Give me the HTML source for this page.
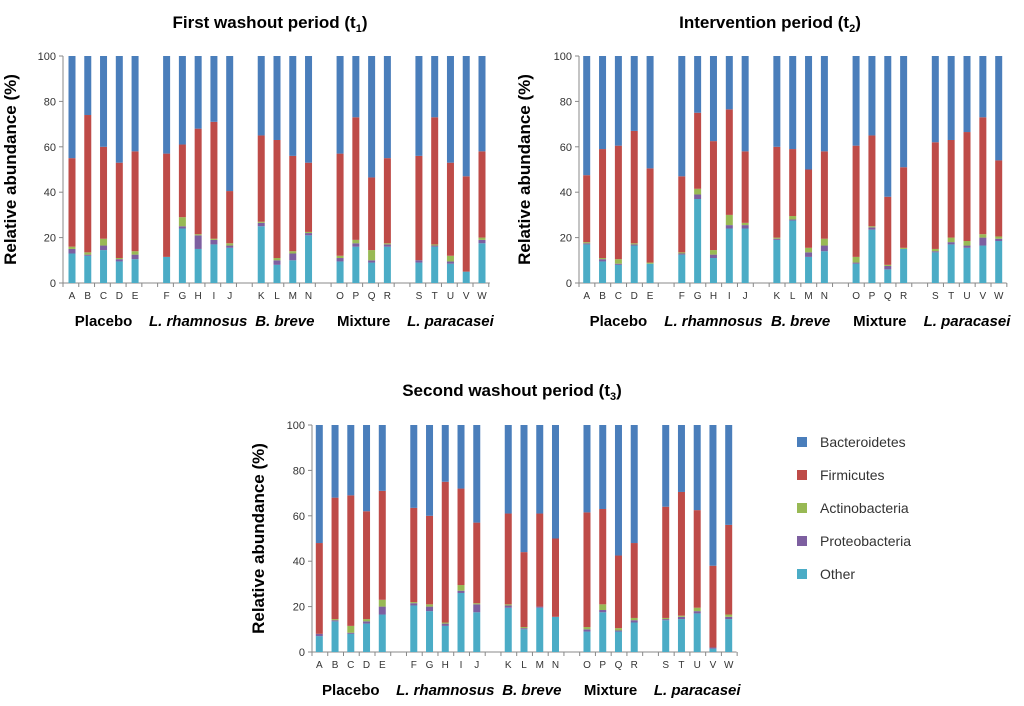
<!DOCTYPE html>
<html><head><meta charset="utf-8"><style>
body{margin:0;background:#fff;width:1024px;height:701px;overflow:hidden;font-family:"Liberation Sans",sans-serif}
svg text{font-family:"Liberation Sans",sans-serif}
</style></head><body>
<svg id="s" width="1024" height="701">
<text x="270" y="28" text-anchor="middle" font-size="17" font-weight="bold">First washout period (t<tspan font-size="11" dy="4">1</tspan><tspan dy="-4">)</tspan></text>
<text x="770" y="28" text-anchor="middle" font-size="17" font-weight="bold">Intervention period (t<tspan font-size="11" dy="4">2</tspan><tspan dy="-4">)</tspan></text>
<text x="512" y="396" text-anchor="middle" font-size="17" font-weight="bold">Second washout period (t<tspan font-size="11" dy="4">3</tspan><tspan dy="-4">)</tspan></text>
<g>
<rect x="797" y="437" width="10" height="10" fill="#4a7ebb"/><text x="820" y="447" font-size="14" fill="#333">Bacteroidetes</text>
<rect x="797" y="470" width="10" height="10" fill="#be4b48"/><text x="820" y="480" font-size="14" fill="#333">Firmicutes</text>
<rect x="797" y="503" width="10" height="10" fill="#98b954"/><text x="820" y="513" font-size="14" fill="#333">Actinobacteria</text>
<rect x="797" y="536" width="10" height="10" fill="#7d5fa0"/><text x="820" y="546" font-size="14" fill="#333">Proteobacteria</text>
<rect x="797" y="569" width="10" height="10" fill="#4bacc6"/><text x="820" y="579" font-size="14" fill="#333">Other</text>
</g>
</svg>
<script>
const categories=["A","B","C","D","E","F","G","H","I","J","K","L","M","N","O","P","Q","R","S","T","U","V","W"];
const groupNames=["Placebo","L. rhamnosus","B. breve","Mixture","L. paracasei"];
const groupSizes=[5,5,4,4,5];
const yTicks=[0,20,40,60,80,100];
// cumulative tops (%) : Other, +Proteobacteria, +Actinobacteria, +Firmicutes ; Bacteroidetes fills to 100
const t1Other=[13,12,14.5,9.5,10.5,11.5,24,15,17,15.5,25,8,10,21,9.5,16,9,16,9,16,8.5,5,17.5];
const t1Proteo=[15,12.5,16.5,10.5,12.5,11.5,25,21,19,16.5,26.5,10,13,22,11,17.5,10,17,10,16.5,9.5,5,19];
const t1Actino=[16,13.5,19.5,11,14,11.5,29,21.5,19.5,17.5,27,11,14,22.5,12,19,14.5,17.5,10,17,12,5,20];
const t1Firm=[55,74,60,53,58,57,61,68,71,40.5,65,63,56,53,57,73,46.5,55,56,73,53,47,58];
const t2Other=[17,9.5,8,16.5,8.5,12.5,37,11,24,24,19,27.5,11.5,14,8.5,23.5,6,15,13.5,17,15.5,16.5,18.5];
const t2Proteo=[17.5,10.5,8.5,17,8.5,13,39,12.5,25.5,25.5,19.5,28,13.5,16.5,9,24.5,7.5,15,14,18,16.5,20,19.5];
const t2Actino=[18,11,10.5,17.5,9,13.5,41.5,14.5,30,26.5,20,29.5,15.5,19.5,11.5,25,8,15.5,15,20,18.5,21.5,20.5];
const t2Firm=[47.5,59,60.5,67,50.5,47,75,62.5,76.5,58,60,59,50,58,60.5,65,38,51,62,63,66.5,73,54];
const t3Other=[7,13.5,8,12.5,16.5,20.5,18,11.5,26,17.5,19.5,10,19.5,15.5,9,17.5,9,13,14,14.5,17,1.5,14.5];
const t3Proteo=[8,14,8.5,13.5,20,21.5,20,12.5,27,21,20.5,10.5,20,15.5,10,18.5,9.5,14,14.5,15.5,18,2,15.5];
const t3Actino=[8,14.5,11.5,14.5,23,22,21,13,29.5,21.5,21,11,20,15.5,11,21,10.5,15,15,16,19.5,2,16.5];
const t3Firm=[48,68,69,62,71,63.5,60,75,72,57,61,44,61,50,61.5,63,42.5,48,64,70.5,62.5,38,56];

const NS="http://www.w3.org/2000/svg";
const svg=document.getElementById('s');
const colors=["#4bacc6","#7d5fa0","#98b954","#be4b48","#4a7ebb"];
const segNames=["other","proteobacteria","actinobacteria","firmicutes","bacteroidetes"];
function mk(tag,attrs,parent){const e=document.createElementNS(NS,tag);for(const k in attrs)e.setAttribute(k,attrs[k]);(parent||svg).appendChild(e);return e;}
function draw(id,series,xA,xW,y0,y100,axisX,ytx){
  const g=mk('g',{});
  
  
  const slots=[];let s=0;groupSizes.forEach((n,gi)=>{for(let i=0;i<n;i++)slots.push(s++);s++;});
  const step=(xW-xA)/26;
  const xs=i=>xA+slots[i]*step;
  const y=v=>y0-(v/100)*(y0-y100);
  const axEnd=xW+step/2;
  // y axis
  const ya=mk('line',{x1:axisX,y1:y100,x2:axisX,y2:y0,stroke:'#888','stroke-width':1},g);
  
  
  yTicks.forEach(t=>{
    const tl=mk('line',{x1:axisX-4,y1:y(t),x2:axisX,y2:y(t),stroke:'#888'},g);
    
    
    const tx=mk('text',{x:axisX-7,y:y(t)+4,'text-anchor':'end','font-size':11,fill:'#333'},g);
    tx.textContent=t;
    
    
  });
  const yt=mk('text',{x:0,y:0,transform:`translate(${ytx},${(y0+y100)/2}) rotate(-90)`,'text-anchor':'middle','font-size':17,'font-weight':'bold'},g);
  yt.textContent='Relative abundance (%)';
  
  
  const xa=mk('line',{x1:axisX,y1:y0,x2:axEnd,y2:y0,stroke:'#888'},g);
  
  
  for(let k=0;k<=27;k++){
    const tx=axisX+k*step;if(tx>axEnd+1)break;
    const tk=mk('line',{x1:tx,y1:y0,x2:tx,y2:y0+4,stroke:'#888'},g);
    
    
  }
  categories.forEach((c,i)=>{
    const cx=xs(i);
    const tops=[series[0][i],series[1][i],series[2][i],series[3][i],100];
    let prev=0;
    tops.forEach((tp,j)=>{
      if(tp>prev){
        const r=mk('rect',{x:cx-3.5,y:y(tp),width:7,height:y(prev)-y(tp),fill:colors[j]},g);
        
        
      }
      prev=Math.max(prev,tp);
    });
    const lt=mk('text',{x:cx,y:y0+16,'text-anchor':'middle','font-size':10,fill:'#333'},g);
    lt.textContent=c;
    
    
  });
  let idx=0;
  groupNames.forEach((n,gi)=>{
    const c=(xs(idx)+xs(idx+groupSizes[gi]-1))/2;idx+=groupSizes[gi];
    const gt=mk('text',{x:c,y:y0+43,'text-anchor':'middle','font-size':15,'font-weight':'bold','font-style':n.startsWith('L.')||n.startsWith('B.')?'italic':'normal'},g);
    gt.textContent=n;
    
    
  });
}
draw('chart-t1',[t1Other,t1Proteo,t1Actino,t1Firm],72,482,283,56,63,16);
draw('chart-t2',[t2Other,t2Proteo,t2Actino,t2Firm],586.7,998.7,283,56,579,530);
draw('chart-t3',[t3Other,t3Proteo,t3Actino,t3Firm],319.3,728.7,652,425,312,264);
</script>
</body></html>
